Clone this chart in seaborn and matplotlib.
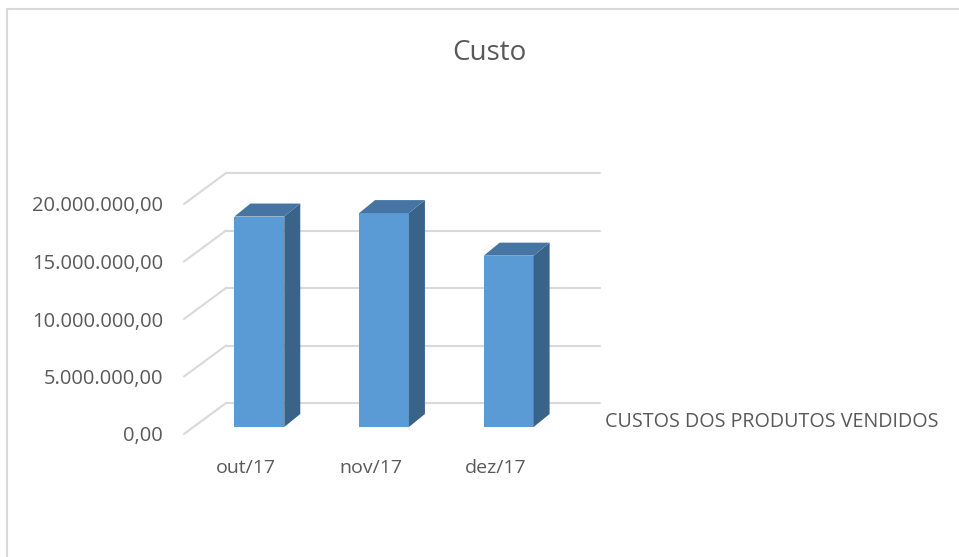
import pandas as pd
import seaborn as sns
import matplotlib.pyplot as plt
from matplotlib.patches import Polygon, Rectangle


# Data
meses = ['out/17', 'nov/17', 'dez/17']
custos = [18300000, 18600000, 14900000]
serie = 'CUSTOS DOS PRODUTOS VENDIDOS'
yticks = [0, 5000000, 10000000, 15000000, 20000000]

df = pd.DataFrame({'mes': meses, 'custo': custos})

sns.set_theme(style='white')
plt.rcParams['font.family'] = ['Open Sans', 'DejaVu Sans']
cor_texto = '#595959'
cor_grade = '#D9D9D9'

fig = plt.figure(figsize=(9.59, 5.57), dpi=100)
# front plane of the 3D box
ax = fig.add_axes([184 / 959, 123 / 557, 374 / 959, 230 / 557])
ax.set_facecolor('none')

sns.barplot(data=df, x='mes', y='custo', width=0.4, color='#5B9BD5',
            saturation=1, ax=ax, zorder=3)
ax.set_xlim(-0.5, 2.5)
ax.set_ylim(0, 20000000)

# pixel -> data conversions for the fake depth
px_x = 3 / 374
px_y = 20000000 / 230

# back wall offset
wx, wy = 42 * px_x, 31 * px_y
for v in yticks:
    ax.plot([-0.5 + wx, 2.5 + wx], [v + wy, v + wy], color=cor_grade, lw=1.5,
            zorder=0, clip_on=False)
    ax.plot([-0.5, -0.5 + wx], [v, v + wy], color=cor_grade, lw=1.5,
            zorder=0, clip_on=False)

# bars sit inside the box, give them depth
bx, by = 13 * px_x, 7 * px_y
dx, dy = 16 * px_x, 13 * px_y
for p in ax.patches:
    x, w, h = p.get_x() + bx, p.get_width(), p.get_height()
    p.set_x(x)
    p.set_y(by)
    p.set_edgecolor('none')
    p.set_clip_on(False)
    top = h + by
    lado = Polygon([(x + w, by), (x + w, top), (x + w + dx, top + dy), (x + w + dx, by + dy)],
                   closed=True, facecolor='#3A6389', edgecolor='none', zorder=3, clip_on=False)
    tampa = Polygon([(x, top), (x + w, top), (x + w + dx, top + dy), (x + dx, top + dy)],
                    closed=True, facecolor='#4675A3', edgecolor='none', zorder=3, clip_on=False)
    ax.add_patch(lado)
    ax.add_patch(tampa)

ax.set_yticks(yticks)
ax.set_yticklabels([f'{v:,.2f}'.replace(',', 'X').replace('.', ',').replace('X', '.') for v in yticks])
ax.tick_params(axis='y', length=0, pad=15, labelsize=14.5, labelcolor=cor_texto)
ax.tick_params(axis='x', length=0, pad=18, labelsize=14, labelcolor=cor_texto)
ax.set_xlabel('')
ax.set_ylabel('')
for s in ax.spines.values():
    s.set_visible(False)
ax.grid(False)

fig.text(489 / 959, 1 - 53 / 557, 'Custo', ha='center', va='center',
         fontsize=20, color=cor_texto)
fig.text(605 / 959, 1 - 422 / 557, serie, ha='left', va='center',
         fontsize=14.2, color=cor_texto)

# chart area border
fig.patches.append(Rectangle((7 / 959, -0.1), 1.2, 1 - 9 / 557 + 0.1, fill=False,
                             edgecolor=cor_grade, lw=1.5, transform=fig.transFigure,
                             figure=fig))

fig.savefig('out.png', dpi=100)
